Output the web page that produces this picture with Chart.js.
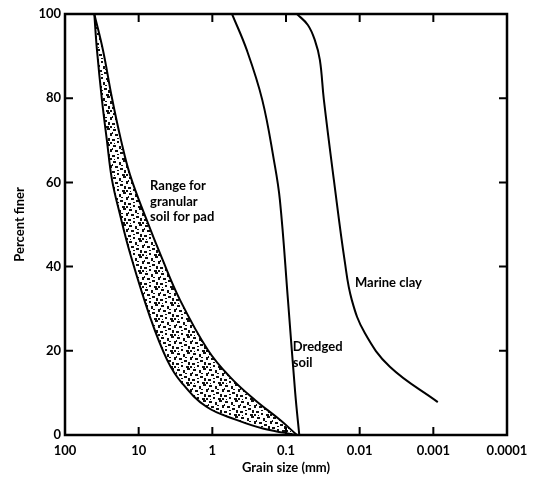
<!DOCTYPE html>
<html>
<head>
<meta charset="utf-8">
<script src="https://cdn.jsdelivr.net/npm/chart.js@4.4.1/dist/chart.umd.min.js"></script>
<style>
  html, body { margin: 0; padding: 0; background: #fff; }
</style>
</head>
<body>
<canvas id="grainChart" width="536" height="479"></canvas>
<script>
// grain size (mm) vs percent finer

// range for granular soil for pad - coarse edge
var coarseX = [0.07, 0.2, 0.47, 1.2, 2.6, 4.1, 7.0, 13, 18, 23, 27, 31.5, 36.8, 40];
var coarseY = [0, 1.5, 3.6, 6.7, 12.4, 17.8, 28, 43, 52.5, 60.6, 70, 79.6, 91.4, 100];

// range for granular soil for pad - fine edge
var fineX = [0.071, 0.121, 0.264, 0.577, 1.15, 2.75, 4.83, 7.96, 13.1, 17.4, 23.0, 30.5, 40];
var fineY = [0, 3.6, 8.3, 13.8, 20.2, 32.1, 42, 51.5, 61.8, 70.1, 80, 91.4, 100];

// dredged soil
var dredgedX = [0.066, 0.075, 0.094, 0.121, 0.146, 0.21, 0.34, 0.54];
var dredgedY = [0, 10, 32, 55.8, 65.3, 79.6, 91.4, 100];

// marine clay
var clayX = [0.00087, 0.00389, 0.00851, 0.0128, 0.0159, 0.0224, 0.0306, 0.0347, 0.0406, 0.0505, 0.071];
var clayY = [7.8, 16.2, 24.2, 32.1, 41.1, 60.6, 79.6, 89.1, 93.8, 97.4, 100];

// axis ticks
var xTickValues = [100, 10, 1, 0.1, 0.01, 0.001, 0.0001];
var xTickLabels = ["100", "10", "1", "0.1", "0.01", "0.001", "0.0001"];
var yTickValues = [0, 20, 40, 60, 80, 100];

function pts(xs, ys) {
    return xs.map(function (x, i) { return { x: x, y: ys[i] }; });
}

var ctx = document.getElementById("grainChart").getContext('2d');

// stipple for the range band
function makeStipple() {
    var c = document.createElement('canvas');
    c.width = 16; c.height = 16;
    var g = c.getContext('2d');
    g.fillStyle = '#fff';
    g.fillRect(0, 0, 16, 16);
    g.fillStyle = '#111';
    var marks = [[1,1,3,2],[7,2,2,3],[11,0,3,2],[14,5,2,3],[3,6,3,2],[8,8,3,2],[12,10,2,3],[0,11,3,2],[5,13,2,2],[10,14,3,2],[5,10,2,1],[14,14,2,2],[9,5,2,1],[2,15,1,1],[0,4,1,2]];
    marks.forEach(function (m) { g.fillRect(m[0], m[1], m[2], m[3]); });
    return ctx.createPattern(c, 'repeat');
}

var labelFont = "bold 13px Lato";

// ticks on all four sides, box frame and curve labels
var frame = {
    id: 'frame',
    afterDraw: function (chart) {
        var c = chart.ctx, a = chart.chartArea;
        var xs = chart.scales.x, ys = chart.scales.y;
        c.save();
        c.strokeStyle = '#000';
        c.lineWidth = 2;
        c.beginPath();
        xTickValues.slice(1, -1).forEach(function (v) {
            var px = xs.getPixelForValue(v);
            c.moveTo(px, a.bottom); c.lineTo(px, a.bottom - 8);
            c.moveTo(px, a.top); c.lineTo(px, a.top + 8);
        });
        yTickValues.slice(1, -1).forEach(function (v) {
            var py = ys.getPixelForValue(v);
            c.moveTo(a.left, py); c.lineTo(a.left + 8, py);
            c.moveTo(a.right, py); c.lineTo(a.right - 8, py);
        });
        c.stroke();
        c.lineWidth = 2.5;
        c.strokeRect(a.left, a.top, a.right - a.left, a.bottom - a.top);

        c.fillStyle = '#000';
        c.font = labelFont;
        c.textAlign = 'left';
        c.textBaseline = 'middle';
        function txt(s, x, y) { c.fillText(s, xs.getPixelForValue(x), ys.getPixelForValue(y)); }
        txt("Range for", 7.0, 59.1);
        txt("granular", 7.0, 55.5);
        txt("soil for pad", 7.0, 51.9);
        txt("Dredged", 0.081, 20.9);
        txt("soil", 0.081, 17.1);
        txt("Marine clay", 0.0116, 36.1);
        c.restore();
    }
};

var line = {
    borderColor: '#000',
    borderWidth: 2,
    pointRadius: 0,
    tension: 0.4,
    fill: false
};

var grainChart = new Chart(ctx, {
    type: 'line',
    data: {
        datasets: [
            Object.assign({}, line, { label: "Range coarse", data: pts(coarseX, coarseY), fill: '+1', backgroundColor: makeStipple() }),
            Object.assign({}, line, { label: "Range fine", data: pts(fineX, fineY) }),
            Object.assign({}, line, { label: "Dredged soil", data: pts(dredgedX, dredgedY) }),
            Object.assign({}, line, { label: "Marine clay", data: pts(clayX, clayY) })
        ]
    },
    options: {
        responsive: false,
        animation: false,
        layout: { padding: { top: 14, right: 29, left: 0, bottom: 0 } },
        plugins: {
            legend: { display: false },
            tooltip: { enabled: false },
            filler: { drawTime: 'beforeDatasetsDraw' }
        },
        scales: {
            x: {
                type: 'logarithmic',
                reverse: true,
                min: 0.0001,
                max: 100,
                grid: { display: false, drawTicks: false },
                border: { display: false },
                afterBuildTicks: function (s) {
                    s.ticks = xTickValues.map(function (v) { return { value: v }; });
                },
                afterFit: function (s) { s.height = 44; },
                ticks: {
                    autoSkip: false,
                    maxRotation: 0,
                    padding: 8,
                    color: '#000',
                    font: { family: 'Lato', size: 13, weight: 'bold' },
                    callback: function (v, i) { return xTickLabels[i]; }
                },
                title: {
                    display: true,
                    text: "Grain size (mm)",
                    color: '#000',
                    padding: { top: 0, bottom: 3 },
                    font: { family: 'Lato', size: 13, weight: 'bold' }
                }
            },
            y: {
                min: 0,
                max: 100,
                grid: { display: false, drawTicks: false },
                border: { display: false },
                afterBuildTicks: function (s) {
                    s.ticks = yTickValues.map(function (v) { return { value: v }; });
                },
                afterFit: function (s) { s.width = 65; },
                ticks: {
                    padding: 4,
                    color: '#000',
                    font: { family: 'Lato', size: 13, weight: 'bold' }
                },
                title: {
                    display: true,
                    text: "Percent finer",
                    color: '#000',
                    padding: { top: 12, bottom: 0 },
                    font: { family: 'Lato', size: 13, weight: 'bold' }
                }
            }
        }
    },
    plugins: [frame]
});
</script>
</body>
</html>
